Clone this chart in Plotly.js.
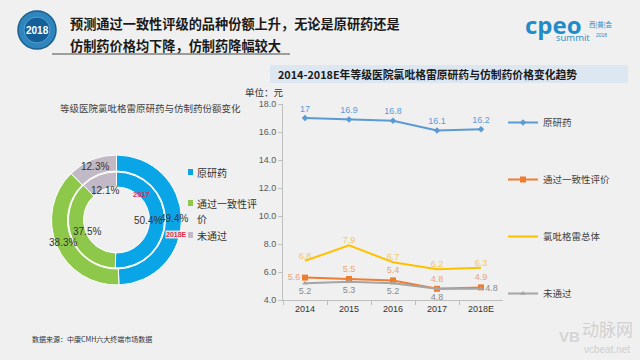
<!DOCTYPE html>
<html><head><meta charset="utf-8">
<script src="https://cdn.plot.ly/plotly-3.0.1.min.js"></script>
<style>html,body{margin:0;padding:0;background:#f0f0f0;}#c{width:640px;height:360px;}</style>
</head><body><div id="c"></div>
<script>
// ---- data ----
const years = ['2014','2015','2016','2017','2018E'];
const seriesNames = ['原研药','通过一致性评价','氯吡格雷总体','未通过'];
const originPrice = [17, 16.9, 16.8, 16.1, 16.2];
const passedPrice = [5.6, 5.5, 5.4, 4.8, 4.9];
const overallPrice = [6.8, 7.9, 6.7, 6.2, 6.3];
const failedPrice = [5.2, 5.3, 5.2, 4.8, 4.8];
const shareLabels = ['原研药','通过一致性评价','未通过'];
const share2017 = [50.4, 37.5, 12.1];
const share2018E = [49.4, 38.3, 12.3];

const W = 640, H = 360;
const px = x => x / W, py = y => 1 - y / H;
const CJK = '"Noto Sans CJK SC", "Noto Sans", sans-serif';
const LAT = '"Liberation Sans", Arial, sans-serif';

const lineColors = ['#5b9bd5', '#ed7d31', '#ffc000', '#a5a5a5'];
const labelColors = ['#5b9bd5', '#e8a47a', '#f3c765', '#8a8a8a'];
const pieColors = ['#0aa5e6', '#8dc84a', '#c1b9c6'];

function lineTrace(i, y, symbol, msize, pos) {
  return {
    type: 'scatter', mode: symbol ? 'lines+markers+text' : 'lines+text',
    x: years, y: y, name: seriesNames[i], legendgroup: 'g' + i,
    line: {color: lineColors[i], width: 2},
    marker: {symbol: symbol || 'circle', size: msize, color: lineColors[i]},
    text: y.map(v => String(v)), textposition: pos,
    textfont: {family: LAT, size: 9, color: labelColors[i]},
    cliponaxis: false, hoverinfo: 'skip', xaxis: 'x', yaxis: 'y'
  };
}

const traces = [
  lineTrace(0, originPrice, 'diamond', 5, 'top center'),
  lineTrace(1, passedPrice, 'square', 6, ['middle left','top center','top center','top center','top center']),
  lineTrace(2, overallPrice, null, 0, 'top center'),
  lineTrace(3, failedPrice, 'triangle-up', 5, ['bottom center','bottom center','bottom center','bottom center','middle right'])
];

// donut geometry (pixels)
const cx = 116.5, cy = 220;
const rOut = 65, rMid = 49, rIn = 33;
traces.push({
  type: 'pie', values: share2018E, labels: shareLabels, sort: false, direction: 'clockwise', rotation: 0,
  hole: rMid / rOut, textinfo: 'none', hoverinfo: 'skip', showlegend: false,
  marker: {colors: pieColors, line: {color: '#ffffff', width: 1}},
  domain: {x: [px(cx - rOut), px(cx + rOut)], y: [py(cy + rOut), py(cy - rOut)]}
});
traces.push({
  type: 'pie', values: share2017, labels: shareLabels, sort: false, direction: 'clockwise', rotation: 0,
  hole: rIn / (rMid - 1), textinfo: 'none', hoverinfo: 'skip', showlegend: false,
  marker: {colors: pieColors, line: {color: '#ffffff', width: 1}},
  domain: {x: [px(cx - rMid + 1), px(cx + rMid - 1)], y: [py(cy + rMid - 1), py(cy - rMid + 1)]}
});

const annotations = [];
function ringLabels(vals, r) {
  const tot = vals.reduce((a, b) => a + b, 0);
  let acc = 0;
  vals.forEach(v => {
    const mid = (acc + v / 2) / tot * 2 * Math.PI; acc += v;
    const x = cx + r * Math.sin(mid), y = cy - r * Math.cos(mid);
    annotations.push({xref: 'paper', yref: 'paper', x: px(x), y: py(y), text: v.toFixed(1) + '%',
      xanchor: 'center', yanchor: 'middle',
      showarrow: false, font: {family: LAT, size: 10, color: '#333333'}});
  });
}
ringLabels(share2018E, 58);
ringLabels(share2017, 32);

function txt(x, y, t, size, color, opts) {
  annotations.push(Object.assign({xref: 'paper', yref: 'paper', x: px(x), y: py(y), text: t, showarrow: false,
    xanchor: 'left', yanchor: 'middle', font: {family: CJK, size: size, color: color}}, opts || {}));
}
// header
txt(37, 30, '<b>2018</b>', 10, '#ffffff', {xanchor: 'center', font: {family: LAT, size: 10, color: '#ffffff'}});
txt(68, 24, '<b>预测通过一致性评级的品种份额上升，无论是原研药还是</b>', 13.2, '#1a1a1a');
txt(68, 45, '<b>仿制药价格均下降，仿制药降幅较大</b>', 13.2, '#1a1a1a');
// logo
txt(523, 25, '<b>cpeo</b>', 24, '#1f8cc8', {font: {family: '"Open Sans", sans-serif', size: 24, color: '#1f8cc8'}});
txt(587, 24, '西|普|会', 6.5, '#1f8cc8');
txt(554, 38, 'summit', 9.5, '#1f8cc8', {font: {family: '"Open Sans", sans-serif', size: 9.5, color: '#1f8cc8'}});
txt(594, 35, '2018', 5, '#1f8cc8', {font: {family: LAT, size: 5, color: '#1f8cc8'}});
// right chart title
txt(276, 74, '<b>2014-2018E年等级医院氯吡格雷原研药与仿制药价格变化趋势</b>', 10.8, '#1a1a1a');
txt(243, 92, '单位：元', 9.5, '#333333');
// donut title & legend
txt(150, 108, '等级医院氯吡格雷原研药与仿制药份额变化', 9.5, '#404040', {xanchor: 'center'});
txt(195, 172, '原研药', 10, '#333333');
txt(195, 203, '通过一致性评', 10, '#333333');
txt(195, 219, '价', 10, '#333333');
txt(195, 235, '未通过', 10, '#333333');
txt(141, 194, '<b>2017</b>', 7.5, '#d8325a', {xanchor: 'center', font: {family: LAT, size: 7.5, color: '#d8325a'}});
txt(176, 234, '<b>2018E</b>', 7, '#e0304a', {xanchor: 'center', bgcolor: 'rgba(255,236,240,0.85)', borderpad: 0,
  font: {family: LAT, size: 7, color: '#e0304a'}});
// footer / watermark
txt(30, 339, '数据来源：中康CMH六大终端市场数据', 7, '#333333');
txt(580, 328, '动脉网', 17, '#d0d0d0');
txt(582, 349, 'vcbeat.net', 10, '#cfcfcf', {font: {family: LAT, size: 10, color: '#cfcfcf'}});
txt(557, 336, '<b>VB</b>', 15, '#d4d4d4', {font: {family: LAT, size: 15, color: '#d4d4d4'}});

const shapes = [
  {type: 'circle', xref: 'paper', yref: 'paper', x0: px(18), x1: px(56), y0: py(49), y1: py(11),
    fillcolor: '#2f86bd', line: {color: '#1b5f8f', width: 1.5}},
  {type: 'circle', xref: 'paper', yref: 'paper', x0: px(24), x1: px(50), y0: py(43), y1: py(17),
    fillcolor: '#155e97', line: {color: '#4fa3d6', width: 1}},
  {type: 'line', xref: 'paper', yref: 'paper', x0: px(52), x1: px(290), y0: py(54), y1: py(54),
    line: {color: '#4a4a4a', width: 1}},
  {type: 'rect', xref: 'paper', yref: 'paper', x0: px(270), x1: px(628), y0: py(83), y1: py(65),
    fillcolor: '#dce7f2', line: {width: 0}, layer: 'below'},
  {type: 'rect', xref: 'paper', yref: 'paper', x0: px(188), x1: px(193), y0: py(175), y1: py(169), fillcolor: pieColors[0], line: {width: 0}},
  {type: 'rect', xref: 'paper', yref: 'paper', x0: px(188), x1: px(193), y0: py(206), y1: py(200), fillcolor: pieColors[1], line: {width: 0}},
  {type: 'rect', xref: 'paper', yref: 'paper', x0: px(188), x1: px(193), y0: py(238), y1: py(232), fillcolor: pieColors[2], line: {width: 0}}
];

const layout = {
  width: W, height: H, margin: {l: 0, r: 0, t: 0, b: 0},
  paper_bgcolor: '#f0f0f0', plot_bgcolor: 'rgba(0,0,0,0)',
  font: {family: CJK},
  xaxis: {type: 'category', domain: [px(283), px(503)], range: [-0.5, 4.5], showline: true, linecolor: '#bfbfbf',
    ticks: 'outside', tickson: 'boundaries', ticklen: 4, tickcolor: '#bfbfbf', showgrid: false, zeroline: false,
    tickfont: {family: LAT, size: 9, color: '#333333'}, fixedrange: true},
  yaxis: {domain: [py(300), py(104)], range: [4, 18], dtick: 2, tickformat: '.1f', showline: true, linecolor: '#bfbfbf',
    ticks: 'outside', ticklen: 4, tickcolor: '#bfbfbf', showgrid: false, zeroline: false,
    tickfont: {family: LAT, size: 9, color: '#595959'}, fixedrange: true},
  showlegend: true,
  legend: {x: px(503), y: py(108), xanchor: 'left', yanchor: 'top', bgcolor: 'rgba(0,0,0,0)',
    font: {family: CJK, size: 9.5, color: '#404040'}, tracegroupgap: 38, itemwidth: 30},
  shapes: shapes, annotations: annotations
};

Plotly.newPlot('c', traces, layout, {staticPlot: true, displayModeBar: false});
</script></body></html>
